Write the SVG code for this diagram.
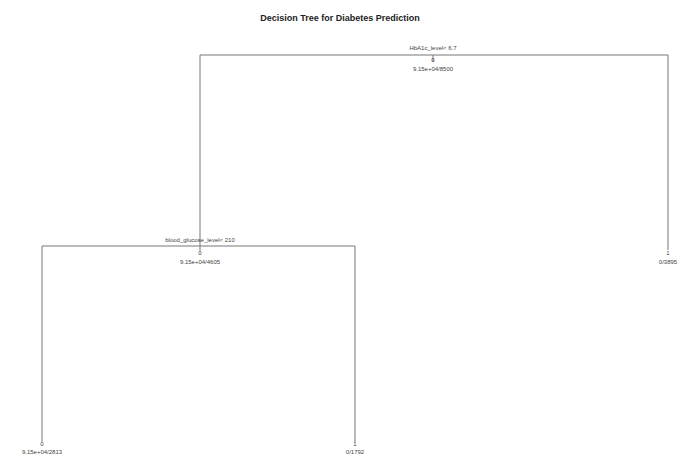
<svg xmlns="http://www.w3.org/2000/svg" width="681" height="455" viewBox="0 0 681 455">
<style>
.t{font-family:"Liberation Sans",Arial,sans-serif;font-size:6px;fill:#444;text-anchor:middle}
.title{font-family:"Liberation Sans",Arial,sans-serif;font-size:9px;font-weight:bold;fill:#222;text-anchor:middle}
.e{fill:none;stroke:#777;stroke-width:1}
</style>
<rect width="681" height="455" fill="#fff"/>
<text class="title" x="340" y="21">Decision Tree for Diabetes Prediction</text>
<g id="connectors">
<path class="e" d="M200,246 V55 H668 V250"/>
<path class="e" d="M433,55 V62"/>
<path class="e" d="M42,442 V246 H355 V442"/>
<path class="e" d="M200,246 V251"/>
</g>
<g id="root">
<text class="t" x="433" y="50">HbA1c_level&lt; 6.7</text>
<text class="t" x="433" y="62">0</text>
<text class="t" x="433" y="71">9.15e+04/8500</text>
</g>
<g id="node2">
<text class="t" x="200" y="242">blood_glucose_level&lt; 210</text>
<text class="t" x="200" y="255">0</text>
<text class="t" x="200" y="264">9.15e+04/4605</text>
</g>
<g id="leaf3">
<text class="t" x="668" y="255">1</text>
<text class="t" x="668" y="264">0/3895</text>
</g>
<g id="leaf4">
<text class="t" x="42" y="446">0</text>
<text class="t" x="42" y="454">9.15e+04/2813</text>
</g>
<g id="leaf5">
<text class="t" x="355" y="446">1</text>
<text class="t" x="355" y="454">0/1792</text>
</g>
</svg>
